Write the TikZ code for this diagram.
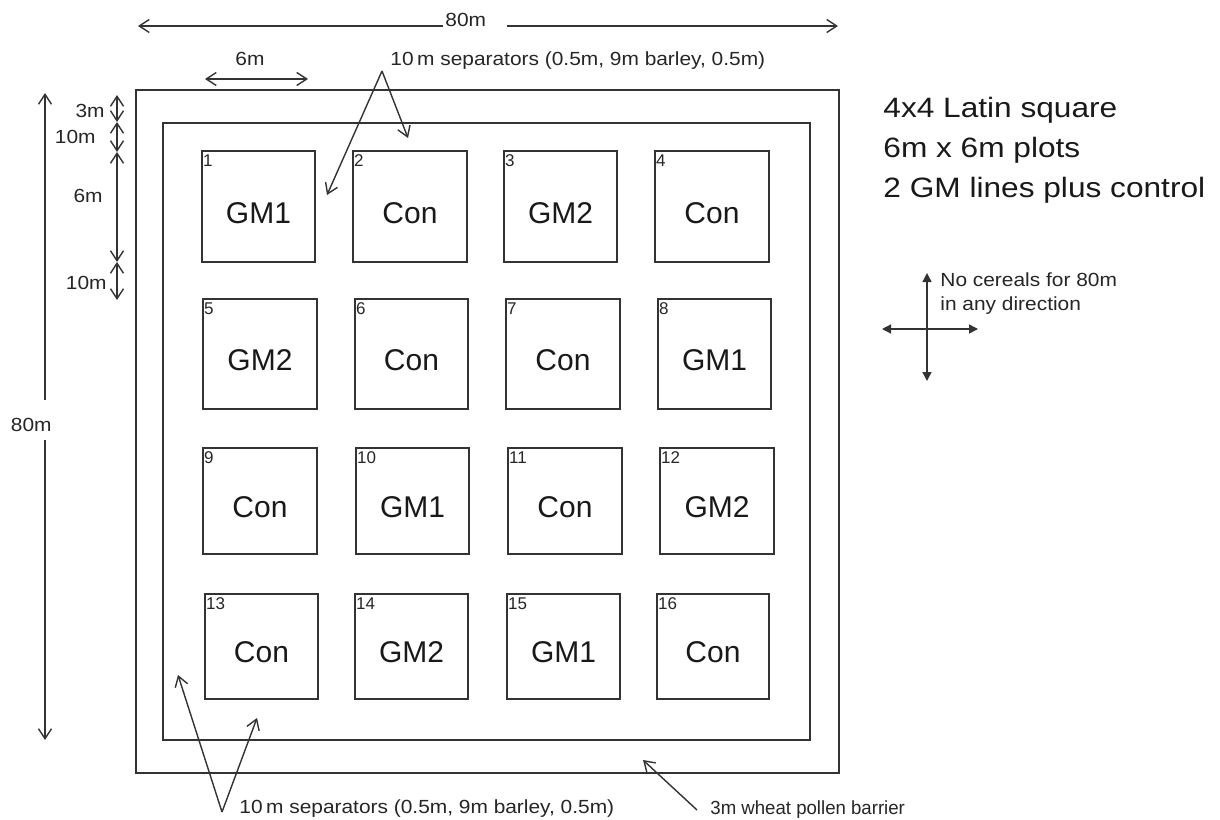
\documentclass[tikz,border=0pt]{standalone}
\usepackage{fontspec}
\setmainfont{Liberation Sans}
\usetikzlibrary{arrows.meta,fit,calc}
\newcommand{\hsc}[2]{\scalebox{#1}[1]{#2}}
\tikzset{
  ln/.style={line width=0.7pt, draw=black!80},
  bh/.tip={Straight Barb[length=5pt,width=6.5pt,line width=0.7pt]},
  th/.tip={Triangle[length=4.5pt,width=4.5pt]},
  dimarrow/.style={ln, bh-bh},
  ptr/.style={ln, -bh},
  cross/.style={ln, th-th},
  smalltxt/.style={inner sep=0pt, font=\fontsize{9.5pt}{11pt}\selectfont, text=black!85},
  bigtxt/.style={inner sep=0pt, font=\fontsize{14pt}{16pt}\selectfont, text=black!90},
  numtxt/.style={inner sep=0pt, font=\fontsize{8.5pt}{10pt}\selectfont, text=black!85},
  plottxt/.style={inner sep=0pt, font=\fontsize{15pt}{17pt}\selectfont, text=black!90},
  plotbox/.style={ln, inner sep=0pt}
}
\begin{document}
\begin{tikzpicture}[x=0.5pt,y=-0.5pt]
\useasboundingbox (0,0) rectangle (1220,819);
\fill[white] (0,0) rectangle (1220,819);

% outer barrier and inner separator area
\draw[ln] (136,90) rectangle (839,773);
\draw[ln] (163,123) rectangle (810,740);

% plots
\foreach \n/\xa/\xb/\ya/\yb/\lab in {
  1/202/315/151/262/GM1, 2/353/467/151/262/Con, 3/504/617/151/262/GM2, 4/655/769/151/262/Con,
  5/203/317/299/409/GM2, 6/355/468/299/409/Con, 7/506/620/299/409/Con, 8/658/771/299/409/GM1,
  9/203/317/448/554/Con, 10/356/469/448/554/GM1, 11/508/622/448/554/Con, 12/660/774/448/554/GM2,
  13/205/318/594/699/Con, 14/355/468/594/699/GM2, 15/507/620/594/699/GM1, 16/657/769/594/699/Con}{
  \coordinate (a\n) at (\xa,\ya);
  \coordinate (b\n) at (\xb,\yb);
  \node[plotbox, draw, fit=(a\n)(b\n)] (plot\n) {};
  \node[numtxt, anchor=north west] (num\n) at ($(plot\n.north west)+(1.5,4)$) {\n};
  \node[plottxt, anchor=base] (lab\n) at ($(plot\n.north)!0.65!(plot\n.south)$) {\lab};
}

% top 80m dimension
\coordinate (t80l) at (138,26);
\coordinate (t80a) at (443,26);
\coordinate (t80b) at (507,26);
\coordinate (t80r) at (838,26);
\draw[ln, bh-] (t80l) -- (t80a);
\draw[ln, -bh] (t80b) -- (t80r);
\node[smalltxt, anchor=base west] (lt80) at (445,26.5) {\hsc{1.1}{80m}};

% 6m width dimension
\coordinate (w6l) at (205,79);
\coordinate (w6r) at (308,79);
\draw[dimarrow] (w6l) -- (w6r);
\node[smalltxt, anchor=base] (lw6) at (250,65) {\hsc{1.1}{6m}};

% top separators label and pointers
\node[smalltxt, anchor=base west] (sepT) at (390,65) {\hsc{1.1}{10\,m separators (0.5m, 9m barley, 0.5m)}};
\coordinate (sepTv) at (382,71);
\coordinate (sepT1) at (327,195);
\coordinate (sepT2) at (408,138);
\draw[ptr] (sepTv) -- (sepT1);
\draw[ptr] (sepTv) -- (sepT2);

% left 80m dimension
\coordinate (l80t) at (45,93);
\coordinate (l80a) at (45,400);
\coordinate (l80b) at (45,440);
\coordinate (l80d) at (45,740);
\draw[ln, bh-] (l80t) -- (l80a);
\draw[ln, -bh] (l80b) -- (l80d);
\node[smalltxt, anchor=base east] (ll80) at (52,431) {\hsc{1.1}{80m}};

% small left dimensions
\coordinate (d0) at (117,95);
\coordinate (d1) at (117,122);
\coordinate (d2) at (117,152);
\coordinate (d3) at (117,262);
\coordinate (d4) at (117,300);
\draw[dimarrow] (d0) -- (d1);
\draw[dimarrow] (d1) -- (d2);
\draw[dimarrow] (d2) -- (d3);
\draw[dimarrow] (d3) -- (d4);
\node[smalltxt, anchor=base east] (ld3) at (105,117) {\hsc{1.1}{3m}};
\node[smalltxt, anchor=base east] (ld10a) at (96,143) {\hsc{1.1}{10m}};
\node[smalltxt, anchor=base east] (ld6) at (103,202) {\hsc{1.1}{6m}};
\node[smalltxt, anchor=base east] (ld10b) at (107,289) {\hsc{1.1}{10m}};

% right text block
\node[bigtxt, anchor=base west] (r1) at (883,117) {\hsc{1.13}{4x4 Latin square}};
\node[bigtxt, anchor=base west] (r2) at (883,157) {\hsc{1.13}{6m x 6m plots}};
\node[bigtxt, anchor=base west] (r3) at (883,197) {\hsc{1.13}{2 GM lines plus control}};

% no cereals cross
\coordinate (cl) at (882,329);
\coordinate (cr) at (978,329);
\coordinate (ct) at (927,273);
\coordinate (cb) at (927,381);
\draw[cross] (cl) -- (cr);
\draw[cross] (ct) -- (cb);
\node[smalltxt, anchor=base west] (nc1) at (940,286) {\hsc{1.1}{No cereals for 80m}};
\node[smalltxt, anchor=base west] (nc2) at (940,310) {\hsc{1.1}{in any direction}};

% bottom separators label and pointers
\node[smalltxt, anchor=base west] (sepB) at (239,813) {\hsc{1.1}{10\,m separators (0.5m, 9m barley, 0.5m)}};
\coordinate (sepBv) at (222,812);
\coordinate (sepB1) at (178,675);
\coordinate (sepB2) at (257,718);
\draw[ptr] (sepBv) -- (sepB1);
\draw[ptr] (sepBv) -- (sepB2);

% wheat pollen barrier
\node[smalltxt, anchor=base west] (wb) at (710,814) {\hsc{0.98}{3m wheat pollen barrier}};
\coordinate (wbt) at (697,810);
\coordinate (wbh) at (643,760);
\draw[ptr] (wbt) -- (wbh);
\end{tikzpicture}
\end{document}
